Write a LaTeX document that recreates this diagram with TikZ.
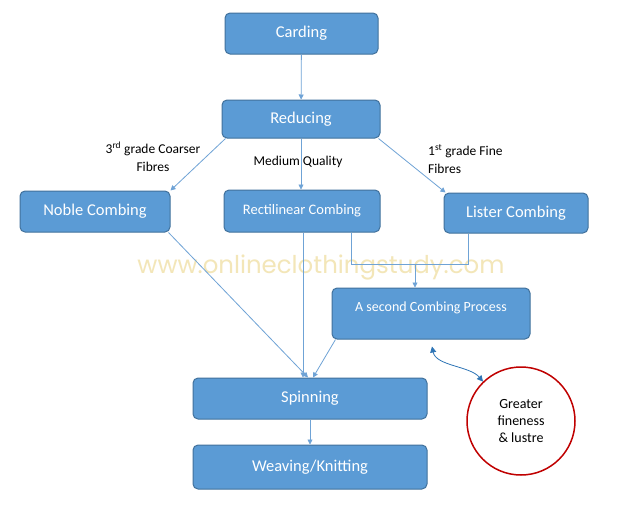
\documentclass[tikz,border=0pt]{standalone}
\usepackage{fontspec}
\setmainfont{Carlito}
\newfontfamily\wmfont{Poppins}
\usetikzlibrary{arrows.meta}
\definecolor{bfill}{HTML}{5B9BD5}
\definecolor{bdraw}{HTML}{41719C}
\definecolor{connc}{HTML}{6FA3D6}
\definecolor{dblue}{HTML}{2E75B6}
\definecolor{dred}{HTML}{C00000}
\definecolor{wmark}{HTML}{F3E6B8}
\begin{document}
\begin{tikzpicture}[x=1pt,y=-1pt,
  box/.style={draw=bdraw,fill=bfill,line width=1pt,rounded corners=5pt,text=white,inner sep=0pt,font=\fontsize{16.5}{19}\selectfont},
  wtext/.style={text=white,inner sep=0pt,font=\fontsize{14}{17}\selectfont},
  conn/.style={draw=connc,line width=0.8pt,-{Triangle[length=5pt,width=5pt]}},
  connplain/.style={draw=connc,line width=0.8pt},
  lab/.style={font=\fontsize{13.5}{18}\selectfont,text=black,align=center,inner sep=0pt}]
\useasboundingbox (0,0) rectangle (640,528);
\fill[white] (0,0) rectangle (640,528);
\node[text=wmark,inner sep=0pt] (wm) at (321,267) {\resizebox{367pt}{!}{\wmfont www.onlineclothingstudy.com}};

\node[box,minimum width=153pt,minimum height=41pt] (carding) at (301.5,33.5) {Carding};
\node[box,minimum width=158pt,minimum height=38pt] (reducing) at (301,119) {Reducing};
\node[box,minimum width=150pt,minimum height=41pt] (noble) at (95,211.5) {Noble Combing};
\node[box,minimum width=156pt,minimum height=42pt,font=\fontsize{14.5}{17}\selectfont] (rect) at (302,211) {Rectilinear Combing};
\node[box,minimum width=144pt,minimum height=40pt] (lister) at (516,213) {Lister Combing};
\node[box,minimum width=198pt,minimum height=51pt] (second) at (431,313.5) {};
\node[wtext] (secondtext) at (431,308) {A second Combing Process};
\node[box,minimum width=234pt,minimum height=41pt] (spin) at (310,398.5) {Spinning};
\node[box,minimum width=234pt,minimum height=44pt] (weave) at (310,467) {Weaving/Knitting};
\node[circle,draw=dred,line width=1.5pt,fill=white,minimum size=108pt,inner sep=0pt,align=center,font=\fontsize{14}{17}\selectfont] (circ) at (521,421) {Greater\\fineness\\\& lustre};

\node[lab] (l3) at (153,157) {3\textsuperscript{rd} grade Coarser\\Fibres};
\node[lab] (lmed) at (298,162) {Medium Quality};
\node[lab,align=left,anchor=west] (l1) at (428,159) {1\textsuperscript{st} grade Fine\\Fibres};

\draw[conn] (carding) -- (reducing);
\draw[conn] ([xshift=4pt]reducing.south west) -- (noble.north east);
\draw[conn] (reducing.south) -- (reducing.south |- rect.north);
\draw[conn] ([xshift=-2pt]reducing.south east) -- ([xshift=2pt]lister.north west);

\draw[connplain] ([xshift=49pt]rect.south) -- ++(0,32) -| ([xshift=-48pt]lister.south);
\draw[conn] ([xshift=-16pt]second.north) ++(0,-24) -- ([xshift=-16pt]second.north);

\draw[conn] ([xshift=-2pt]noble.south east) -- ([xshift=-2pt]spin.north);
\draw[conn] ([xshift=1pt]rect.south) -- ([xshift=1pt]rect.south |- spin.north);
\draw[conn] ([xshift=4pt]second.south west) -- ([xshift=3pt]spin.north);
\draw[conn] (spin) -- (weave);

\draw[dblue,line width=0.8pt,{Triangle[length=6pt,width=6pt]}-{Triangle[length=6pt,width=6pt]}] ([xshift=1pt,yshift=-7pt]second.south) .. controls (436,366) and (470,366) .. (circ.134);
\end{tikzpicture}
\end{document}
